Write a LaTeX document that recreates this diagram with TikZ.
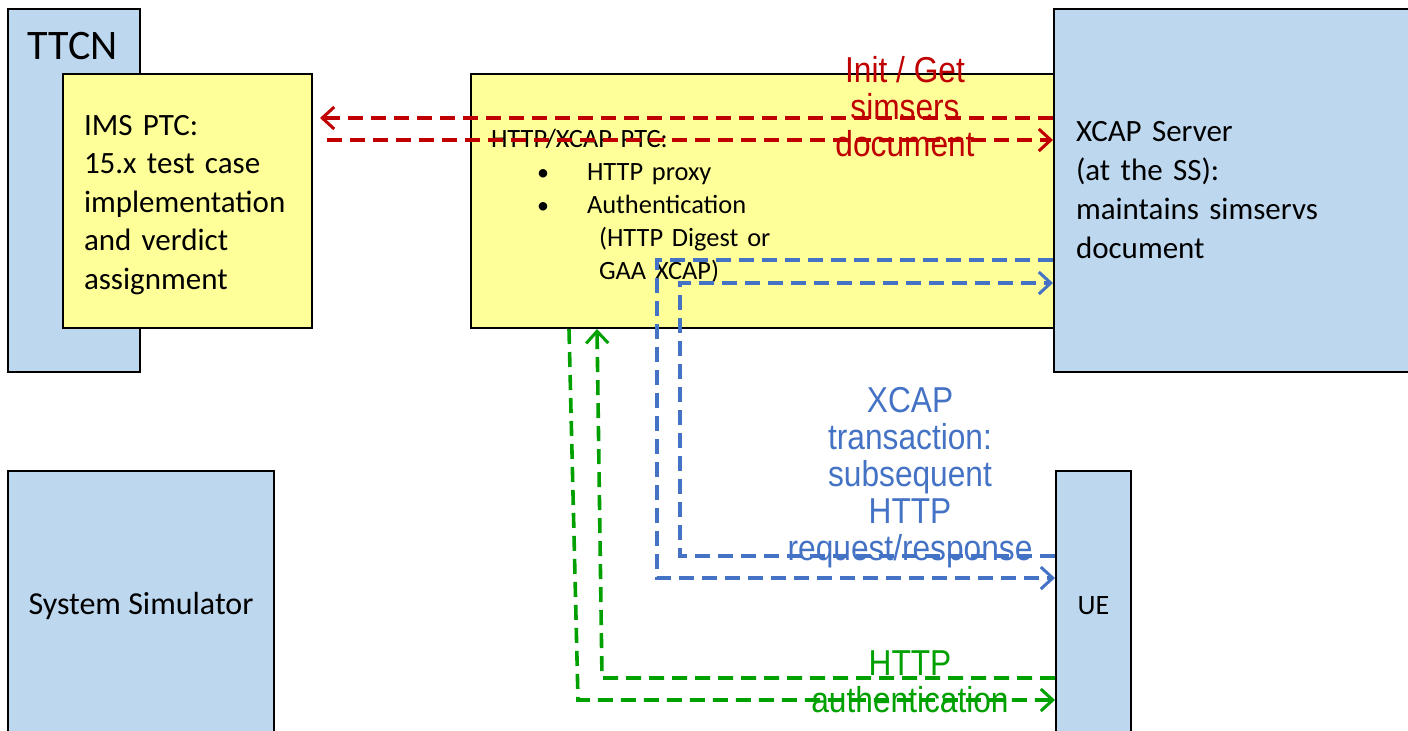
\documentclass[tikz,border=0pt]{standalone}
\usepackage{fontspec}
\setmainfont{Carlito}
\newfontfamily\msgfont[FakeStretch=0.88]{Liberation Sans}
\usetikzlibrary{arrows.meta}
\definecolor{boxblue}{HTML}{BDD7EE}
\definecolor{boxyellow}{HTML}{FFFF99}
\definecolor{msgred}{HTML}{C00000}
\definecolor{msgblue}{HTML}{4472C4}
\definecolor{msggreen}{HTML}{00A000}

\begin{document}
\begin{tikzpicture}[x=0.5pt, y=-0.5pt,
		sysbox/.style={rectangle,draw,line width=1pt,fill=boxblue,anchor=north west,inner sep=0pt},
		ptcbox/.style={rectangle,draw,line width=1pt,fill=boxyellow,anchor=north west,align=left},
		msgline/.style={line width=1.8pt,dash pattern=on 7.5pt off 4pt,->,>={Straight Barb[length=6pt,width=11pt,line width=1.5pt]}},
		msgtext/.style={font=\msgfont\fontsize{18}{18.5}\selectfont,align=center}]
		\useasboundingbox (0,0) rectangle (1408,730);

		\node[sysbox,minimum width=66pt,minimum height=181.5pt] (ttcn) at (7,8) {};
		\node[anchor=north west,inner sep=0pt,font=\fontsize{21}{25}\selectfont] (ttcnlabel) at (27,32) {TTCN};
		\node[ptcbox,minimum height=127pt,inner xsep=10.5pt,text width=103.5pt,font=\fontsize{15.5}{19.25}\selectfont] (ims) at (62,73) {\rule{0pt}{13.8pt}IMS PTC:\\15.x test case\\implementation\\and verdict\\assignment};

		\node[ptcbox,minimum height=127pt,inner xsep=10pt,text width=272.5pt,font=\fontsize{13.2}{16.5}\selectfont] (ptc) at (470,73) {\rule{0pt}{14pt}HTTP/XCAP PTC:\\
			\hspace*{23pt}\makebox[25pt][l]{\large\textbullet}HTTP proxy\\
			\hspace*{23pt}\makebox[25pt][l]{\large\textbullet}Authentication\\
			\hspace*{54pt}(HTTP Digest or\\
			\hspace*{54pt}GAA XCAP)};

		\node[sysbox,minimum width=180pt,minimum height=181.5pt,inner xsep=11pt,text width=158pt,align=left,font=\fontsize{15.5}{19.5}\selectfont] (xcap) at (1053,8) {XCAP Server\\(at the SS):\\maintains simservs\\document};

		\node[sysbox,minimum width=133pt,minimum height=135pt,font=\fontsize{16}{19}\selectfont] (sim) at (7,470) {System Simulator};
		\node[sysbox,minimum width=37.5pt,minimum height=135pt,font=\fontsize{14}{17}\selectfont] (ue) at (1055,470) {UE};

		\draw[msgline,msgred] (xcap.west |- 0,118) -- ([xshift=3.5pt]ims.east |- 0,118);
		\draw[msgline,msgred] ([xshift=7pt]ims.east |- 0,140) -- (xcap.west |- 0,140);
		\node[msgtext,msgred] (initlabel) at (905,107) {Init / Get\\simsers\\document};

		\draw[msgline,msgblue] (xcap.west |- 0,260) -| (657,578) -- (ue.west |- 0,578);
		\draw[msgline,msgblue] (ue.west |- 0,556) -| (680,283) -- (xcap.west |- 0,283);
		\node[msgtext,msgblue] (xcaplabel) at (910,478) {XCAP\\transaction:\\subsequent\\HTTP\\request/response};

		\draw[msgline,msggreen] (ue.west |- 0,678) -- (602,678) -- (597,0 |- ptc.south);
		\draw[msgline,msggreen] (569,0 |- ptc.south) -- (578,700) -- (ue.west |- 0,700);
		\node[msgtext,msggreen] (authlabel) at (910,682) {HTTP\\authentication};
\end{tikzpicture}
\end{document}
